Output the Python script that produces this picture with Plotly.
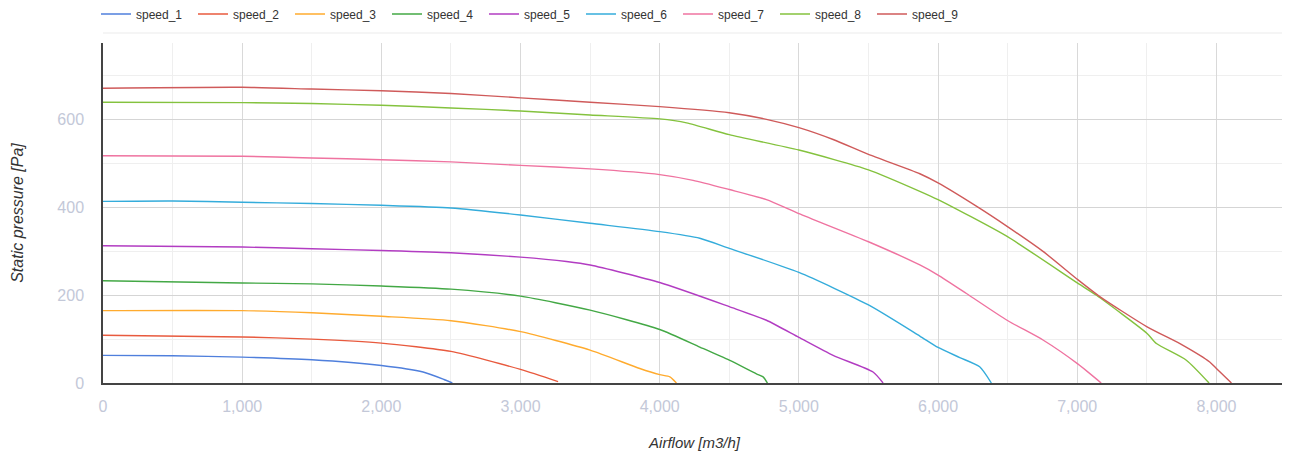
import plotly.graph_objects as go

# ---- data ----
speed_1_x = [0, 500, 1000, 1500, 2000, 2300, 2450, 2510]
speed_1_y = [63, 62, 59, 53, 40, 25, 8, 0]

speed_2_x = [0, 1000, 1500, 2000, 2500, 3000, 3270]
speed_2_y = [109, 105, 100, 91, 72, 31, 3]

speed_3_x = [0, 1000, 1500, 2000, 2500, 3000, 3500, 3857, 4000, 4073, 4120]
speed_3_y = [165, 165, 160, 152, 142, 117, 75, 33, 19, 14, 0]

speed_4_x = [0, 1000, 1500, 2000, 2500, 3000, 3500, 4000, 4288, 4500, 4695, 4743, 4774]
speed_4_y = [233, 228, 226, 221, 214, 198, 166, 122, 82, 52, 21, 14, 0]

speed_5_x = [0, 1000, 1500, 2000, 2500, 3000, 3330, 3500, 4000, 4500, 4767, 5000, 5246, 5533, 5605]
speed_5_y = [313, 310, 306, 302, 297, 287, 277, 269, 229, 174, 143, 104, 63, 25, 0]

speed_6_x = [0, 500, 1000, 1500, 2000, 2500, 3000, 3500, 4000, 4288, 4500, 5000, 5500, 5869, 6000, 6156, 6299, 6383]
speed_6_y = [414, 415, 412, 409, 405, 399, 383, 364, 345, 330, 307, 252, 178, 107, 81, 58, 37, 0]

speed_7_x = [0, 1000, 1500, 2000, 2500, 3000, 3500, 4000, 4240, 4500, 4767, 5000, 5500, 5869, 6000, 6204, 6496, 6754, 7006, 7172]
speed_7_y = [518, 517, 513, 509, 504, 496, 488, 475, 462, 441, 418, 386, 322, 269, 246, 204, 143, 98, 43, 0]

speed_8_x = [0, 1000, 1500, 2000, 2500, 3000, 3500, 4000, 4193, 4500, 5000, 5500, 5869, 6000, 6496, 7006, 7138, 7502, 7569, 7784, 7947]
speed_8_y = [640, 639, 637, 633, 627, 620, 611, 602, 593, 566, 531, 486, 437, 418, 334, 227, 200, 113, 90, 52, 0]

speed_9_x = [0, 1000, 1500, 2000, 2500, 3000, 3500, 4000, 4500, 4767, 5000, 5246, 5500, 5869, 6000, 6275, 6496, 6754, 7006, 7162, 7502, 7760, 7952, 8000, 8108]
speed_9_y = [672, 674, 670, 666, 660, 650, 640, 630, 616, 601, 582, 555, 521, 477, 456, 403, 357, 300, 235, 197, 128, 86, 48, 33, 0]

series_names = ["speed_1", "speed_2", "speed_3", "speed_4", "speed_5",
                "speed_6", "speed_7", "speed_8", "speed_9"]
series_x = [speed_1_x, speed_2_x, speed_3_x, speed_4_x, speed_5_x,
            speed_6_x, speed_7_x, speed_8_x, speed_9_x]
series_y = [speed_1_y, speed_2_y, speed_3_y, speed_4_y, speed_5_y,
            speed_6_y, speed_7_y, speed_8_y, speed_9_y]
colors = ["#4f7fdc", "#e85a3e", "#ffab2e", "#43a845", "#b23cc2",
          "#34acdb", "#ef73a0", "#84c23e", "#cf5a5a"]

x_title = "Airflow [m3/h]"
y_title = "Static pressure [Pa]"

fig = go.Figure()
for name, xs, ys, c in zip(series_names, series_x, series_y, colors):
    fig.add_trace(go.Scatter(
        x=xs, y=ys, name=name, mode="lines",
        line=dict(color=c, width=1.4, shape="spline", smoothing=0.6),
    ))

# the page body adds an 8px offset; the layout below compensates for it
W, H = 1290, 459
fig.update_layout(
    width=W, height=H,
    margin=dict(l=95, r=12, t=35, b=84, autoexpand=False),
    paper_bgcolor="white", plot_bgcolor="white",
    font=dict(family="Liberation Sans, Arial, sans-serif", color="#333333"),
    showlegend=True,
    legend=dict(
        orientation="h",
        xref="container", yref="container",
        x=88 / W, y=1 - 6 / H, xanchor="left", yanchor="middle",
        entrywidth=52, entrywidthmode="pixels",
        font=dict(size=12, color="#333333"),
        bgcolor="rgba(0,0,0,0)",
    ),
    shapes=[dict(type="line", xref="paper", yref="paper",
                 x0=0, x1=1, y0=1 + 10 / 340, y1=1 + 10 / 340,
                 line=dict(color="#ebebeb", width=1))],
)
fig.update_xaxes(
    range=[0, 8500], dtick=1000, tickformat=",d",
    showgrid=True, gridcolor="#d9d9d9", gridwidth=1,
    minor=dict(dtick=500, showgrid=True, gridcolor="#efefef", gridwidth=1),
    showline=True, linecolor="#444444", linewidth=1.5,
    zeroline=False, automargin=False,
    tickfont=dict(size=16, color="#c3c8d8"),
    ticklabelstandoff=8,
    title=dict(text="<i>" + x_title + "</i>", font=dict(size=15, color="#333333"), standoff=24),
)
fig.update_yaxes(
    range=[0, 775], dtick=200,
    showgrid=True, gridcolor="#d5d5d5", gridwidth=1,
    minor=dict(dtick=100, showgrid=True, gridcolor="#efefef", gridwidth=1),
    showline=True, linecolor="#444444", linewidth=1.5,
    zeroline=False, automargin=False,
    tickfont=dict(size=16, color="#c3c8d8"),
    ticklabelstandoff=14,
    title=dict(text="<i>" + y_title + "</i>", font=dict(size=16, color="#333333"), standoff=30),
)

fig.write_html("out.html")
